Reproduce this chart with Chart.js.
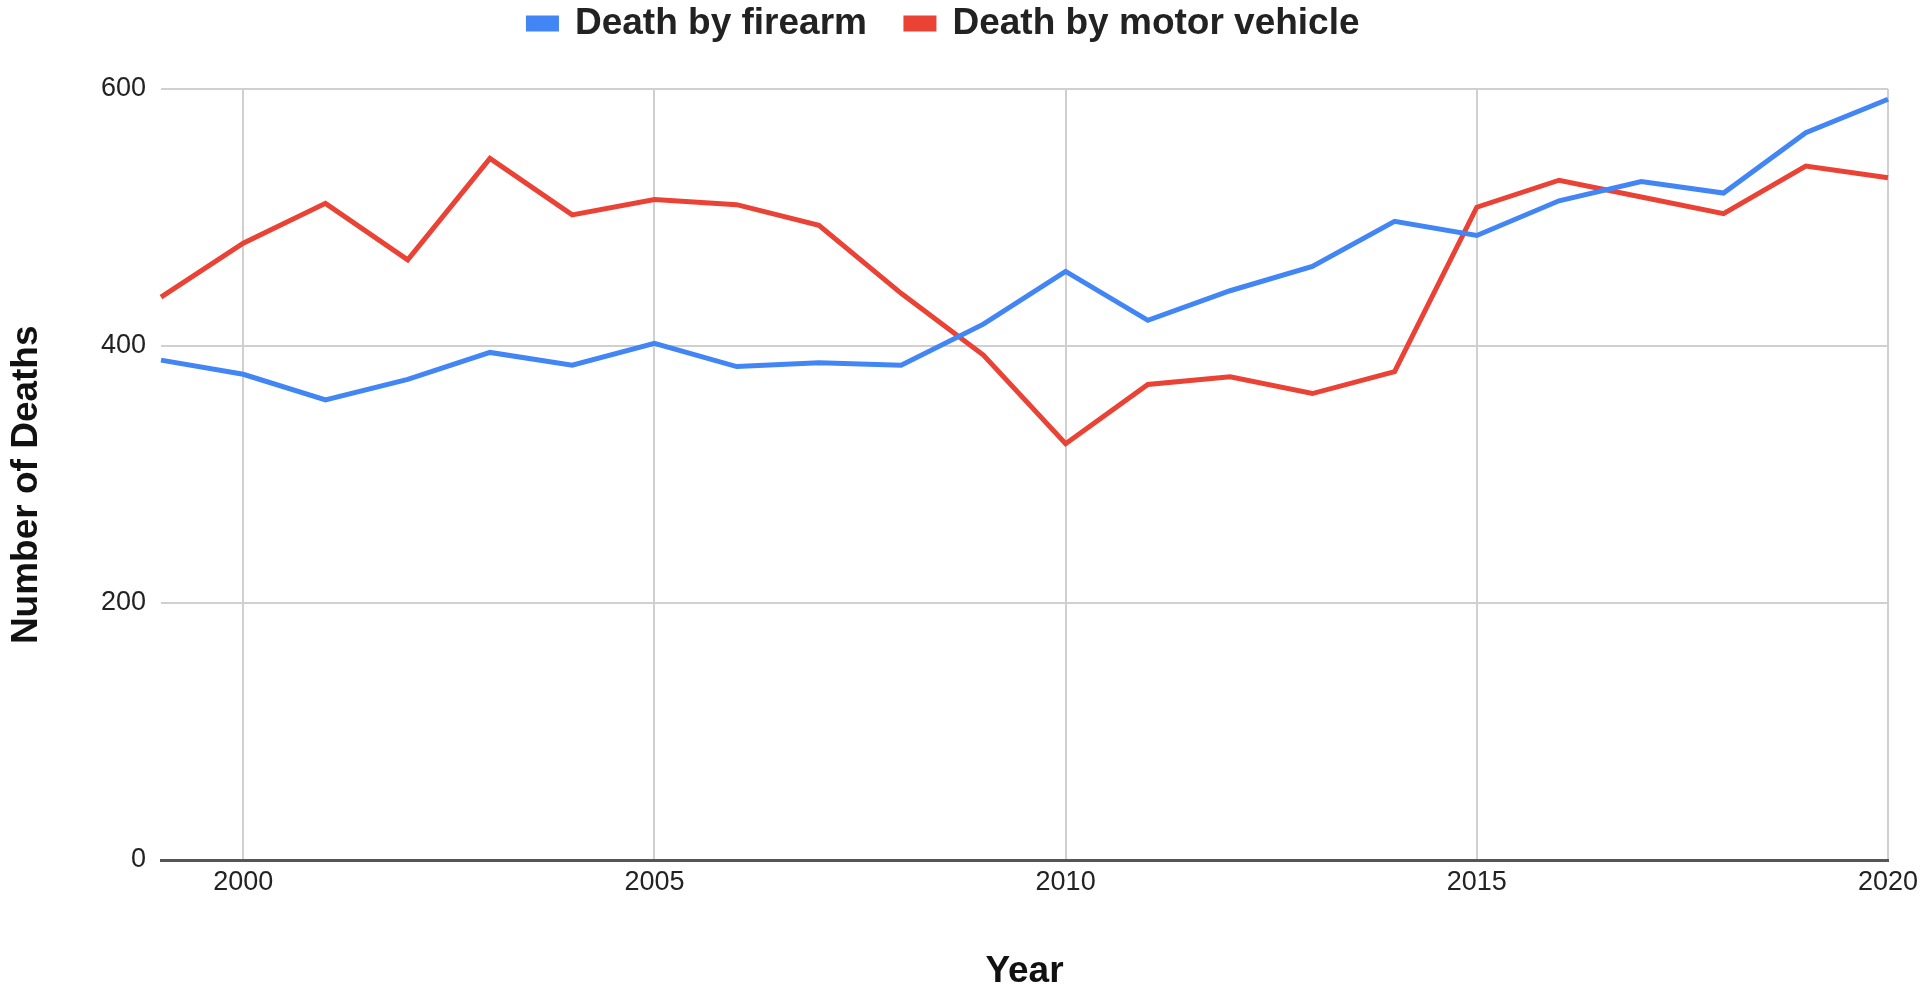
<!DOCTYPE html>
<html>
<head>
<meta charset="utf-8">
<script src="https://cdn.jsdelivr.net/npm/chart.js@4.4.1/dist/chart.umd.min.js"></script>
<style>
  html, body { margin: 0; padding: 0; background: #fff; }
  #wrap { width: 1921px; height: 986px; }
</style>
</head>
<body>
<div id="wrap"><canvas id="chart"></canvas></div>
<script>
const years = ["1999","2000","2001","2002","2003","2004","2005","2006","2007","2008","2009",
               "2010","2011","2012","2013","2014","2015","2016","2017","2018","2019","2020"];
const firearm = [389,378,358,374,395,385,402,384,387,385,417,458,420,443,462,497,486,513,528,519,566,592];
const motorVehicle = [438,480,511,467,546,502,514,510,494,441,393,324,370,376,363,380,508,529,516,503,540,531];
const shownYears = ["2000","2005","2010","2015","2020"];

const FONT = "'Liberation Sans', Arial, Helvetica, sans-serif";

// push the legend up and leave the gap above the plot
const legendHeight = {
  id: "legendHeight",
  beforeInit(chart) {
    const fit = chart.legend.fit;
    chart.legend.fit = function () {
      fit.call(this);
      this.height = 123;
    };
  }
};

function yearShown(ctx) {
  return ctx.tick && shownYears.includes(years[ctx.tick.value]);
}

new Chart(document.getElementById("chart"), {
  type: "line",
  data: {
    labels: years,
    datasets: [
      { label: "Death by firearm", data: firearm, borderColor: "#4285F4", backgroundColor: "#4285F4" },
      { label: "Death by motor vehicle", data: motorVehicle, borderColor: "#EA4335", backgroundColor: "#EA4335" }
    ]
  },
  options: {
    responsive: true,
    maintainAspectRatio: false,
    devicePixelRatio: 1,
    animation: false,
    layout: { padding: { top: -34, right: 33, bottom: 0, left: 0 } },
    elements: {
      line: { borderWidth: 5, tension: 0 },
      point: { radius: 0 }
    },
    plugins: {
      tooltip: { enabled: false },
      legend: {
        position: "top",
        labels: {
          color: "#222",
          font: { family: FONT, size: 37, weight: "bold" },
          boxWidth: 28,
          boxHeight: 11,
          padding: 39
        }
      }
    },
    scales: {
      x: {
        grid: {
          drawTicks: false,
          lineWidth: 2,
          color: ctx => yearShown(ctx) ? "#d0d0d0" : "rgba(0,0,0,0)"
        },
        border: { display: true, color: "#555", width: 3 },
        ticks: {
          autoSkip: false,
          maxRotation: 0,
          padding: 6,
          color: "#222",
          font: { family: FONT, size: 27 },
          callback: (v, i) => shownYears.includes(years[i]) ? years[i] : null
        },
        title: {
          display: true,
          text: "Year",
          color: "#111",
          padding: 0,
          font: { family: FONT, size: 37, weight: "bold", lineHeight: 0.75 }
        },
        afterFit(scale) {
          scale.height = 126;
          scale.paddingRight = 0;
        }
      },
      y: {
        min: 0,
        max: 600,
        grid: { drawTicks: false, lineWidth: 2, color: "#d0d0d0" },
        border: { display: false },
        ticks: {
          stepSize: 200,
          padding: 15,
          color: "#222",
          font: { family: FONT, size: 27 }
        },
        title: {
          display: true,
          text: "Number of Deaths  ",
          color: "#111",
          padding: { top: 8, bottom: 0 },
          font: { family: FONT, size: 37, weight: "bold", lineHeight: 1 }
        },
        afterFit(scale) { scale.width = 161; }
      }
    }
  },
  plugins: [legendHeight]
});
</script>
</body>
</html>
